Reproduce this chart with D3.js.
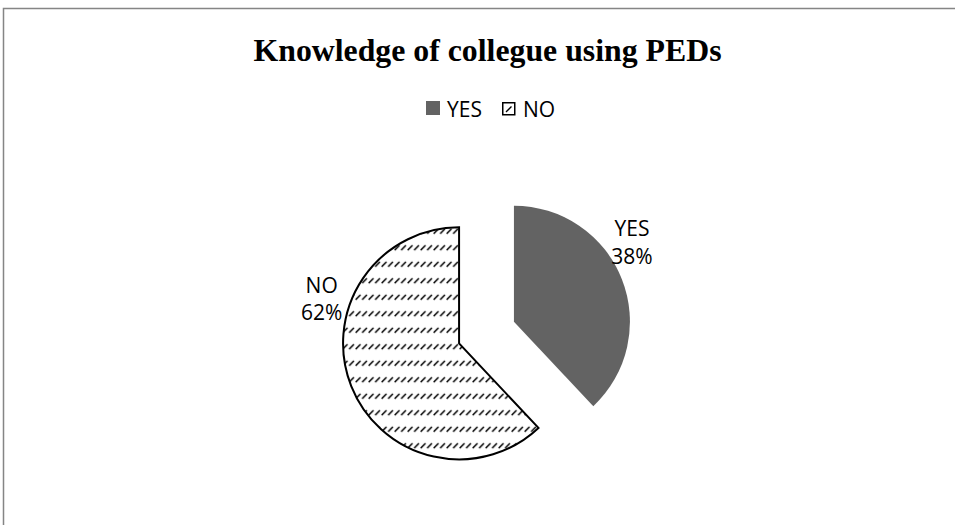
<!DOCTYPE html>
<html>
<head>
<meta charset="utf-8">
<script src="https://cdn.jsdelivr.net/npm/d3@7"></script>
<style>
  body { margin: 0; background: #fff; }
  svg { display: block; }
</style>
</head>
<body>
<svg width="955" height="525"></svg>
<script>
// answers to "do you know a colleague using PEDs"
const categories = ["YES", "NO"];
const values = [38, 62];
const title = "Knowledge of collegue using PEDs";

const svg = d3.select("svg");
const width = +svg.attr("width");

const cx = 486.5, cy = 332.5;
const radius = 116;
const explode = 29.5;

// hatch pattern for the NO slice
const defs = svg.append("defs");
const pat = defs.append("pattern")
  .attr("id", "hatch")
  .attr("patternUnits", "userSpaceOnUse")
  .attr("width", 6.5)
  .attr("height", 16.5);
pat.append("path")
  .attr("d", "M0.6,5.8 L5.4,1")
  .attr("stroke", "#000")
  .attr("stroke-width", 1.6);

const fills = ["#636363", "url(#hatch)"];

// frame
svg.append("rect")
  .attr("x", 3.5).attr("y", 8.5)
  .attr("width", width + 10).attr("height", 540)
  .attr("fill", "none")
  .attr("stroke", "#858585")
  .attr("stroke-width", 1.5);

svg.append("text")
  .attr("x", 487.5)
  .attr("y", 61)
  .attr("text-anchor", "middle")
  .attr("font-family", "Liberation Serif, Times New Roman, serif")
  .attr("font-weight", "bold")
  .attr("font-size", 31)
  .attr("textLength", 468)
  .attr("lengthAdjust", "spacingAndGlyphs")
  .text(title);

// legend
const legend = svg.append("g").attr("font-family", "Open Sans, sans-serif").attr("font-size", 21);
const legX = [426, 502];
categories.forEach((c, i) => {
  const g = legend.append("g").attr("transform", `translate(${legX[i]},101)`);
  if (i === 0) {
    g.append("rect").attr("width", 14).attr("height", 14).attr("fill", fills[0]);
  } else {
    g.append("rect").attr("x", 0.75).attr("y", 1.75).attr("width", 12).attr("height", 12)
      .attr("fill", "#fff").attr("stroke", "#000").attr("stroke-width", 1.5);
    g.append("path").attr("d", "M4,11 L9.5,5.5").attr("stroke", "#000").attr("stroke-width", 1.3);
  }
  g.append("text").attr("x", 21).attr("y", 15.5).attr("fill", "#000").text(c);
});

const pie = d3.pie().sort(null).startAngle(0).endAngle(2 * Math.PI)(values);
const arc = d3.arc().innerRadius(0).outerRadius(radius);

const pieG = svg.append("g").attr("transform", `translate(${cx},${cy})`);

pie.forEach((d, i) => {
  const mid = (d.startAngle + d.endAngle) / 2;
  const dx = Math.sin(mid) * explode, dy = -Math.cos(mid) * explode;
  pieG.append("path")
    .attr("transform", `translate(${dx},${dy})`)
    .attr("d", arc(d))
    .attr("fill", i === 0 ? fills[0] : "#fff");
  if (i === 1) {
    pieG.append("path")
      .attr("transform", `translate(${dx},${dy})`)
      .attr("d", arc(d))
      .attr("fill", fills[1])
      .attr("stroke", "#000")
      .attr("stroke-width", 2);
  }
});

// data labels, best-fit position expressed as a share of each slice's sweep
const labelShare = [0.443, 0.638];
const labelRadius = 167;
pie.forEach((d, i) => {
  const a = d.startAngle + (d.endAngle - d.startAngle) * labelShare[i];
  const lx = Math.sin(a) * labelRadius, ly = -Math.cos(a) * labelRadius;
  const t = pieG.append("text")
    .attr("text-anchor", "middle")
    .attr("font-family", "Open Sans, sans-serif")
    .attr("font-size", 21)
    .attr("fill", "#000");
  t.append("tspan").attr("x", lx).attr("y", ly - (i === 0 ? 15 : 13)).text(categories[i]);
  t.append("tspan").attr("x", lx).attr("y", ly + (i === 0 ? 13 : 14)).text(values[i] + "%");
});
</script>
</body>
</html>
